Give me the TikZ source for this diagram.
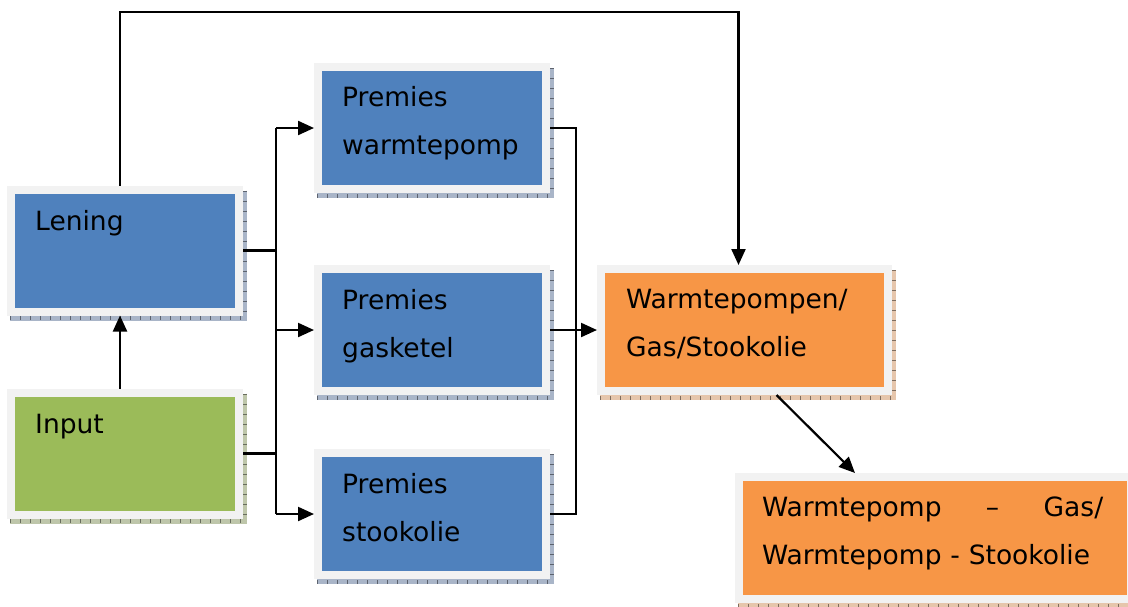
\documentclass[tikz,border=0pt]{standalone}
\usepackage{fontspec}
\setmainfont{DejaVu Sans}
\usepackage{xcolor}
\usetikzlibrary{arrows.meta,positioning,calc}

\definecolor{boxblue}{HTML}{4F81BD}
\definecolor{boxgreen}{HTML}{9BBB59}
\definecolor{boxorange}{HTML}{F79646}
\definecolor{framegray}{HTML}{F2F2F2}
\definecolor{shblue}{HTML}{A9B5C8}
\definecolor{shgreen}{HTML}{BEC6AA}
\definecolor{shorange}{HTML}{E6C6AC}

\tikzset{
  box/.style={draw=framegray, line width=8pt, inner sep=0pt,
    minimum width=228pt, minimum height=122pt},
  lbl/.style={anchor=base west, inner sep=0pt, text width=345pt, align=left,
    font=\fontsize{26.5}{48}\selectfont},
  conn/.style={line width=2.2pt},
  arr/.style={conn, -{Triangle[length=16pt,width=14pt]}}
}

\begin{document}
\begin{tikzpicture}[x=1pt, y=-1pt]
    \useasboundingbox[fill=white] (0,0) rectangle (1128,606);

    % boxes
    \node[box, fill=boxblue] (lening) at (125,250.5) {};
    \node[box, fill=boxgreen] (input) at (125,453.5) {};
    \node[box, fill=boxblue] (pww) at (432,128) {};
    \node[box, fill=boxblue] (pgk) at (432,330) {};
    \node[box, fill=boxblue] (pso) at (432,514) {};
    \node[box, fill=boxorange, minimum width=287pt] (wgs) at (744.5,330) {};
    \node[box, fill=boxorange, minimum width=392pt] (mix) at (935,538) {};

    % shadow strips
    \foreach \n/\c in {lening/shblue, input/shgreen, pww/shblue, pgk/shblue,
                       pso/shblue, wgs/shorange, mix/shorange} {
        \fill[\c] ([xshift=3pt]\n.south west) rectangle ([xshift=4pt,yshift=-5pt]\n.south east);
        \fill[\c] ([yshift=-5pt]\n.north east) rectangle ([xshift=4pt]\n.south east);
        \draw[\c!55!black, line width=4pt, dash pattern=on 1pt off 9pt]
            ([xshift=3pt,yshift=-2.5pt]\n.south west) -- ([xshift=4pt,yshift=-2.5pt]\n.south east);
        \draw[\c!55!black, line width=4pt, dash pattern=on 1pt off 9pt]
            ([xshift=2pt,yshift=-5pt]\n.north east) -- ([xshift=2pt]\n.south east);
    }

    % texts
    \node[lbl] (leningtxt) at (35,230) {Lening};
    \node[lbl] (inputtxt) at (35,433) {Input};
    \node[lbl] (pwwtxt) at (342,106) {Premies\\warmtepomp};
    \node[lbl] (pgktxt) at (342,309) {Premies\\gasketel};
    \node[lbl] (psotxt) at (342,493) {Premies\\stookolie};
    \node[lbl] (wgstxt) at (626,308) {Warmtepompen/\\Gas/Stookolie};
    \node[lbl] (mixtxt) at (762,516) {\makebox[341pt][l]{Warmtepomp\hfill–\hfill Gas/}\\Warmtepomp - Stookolie};

    % connectors
    \coordinate (busL) at (276,0);
    \coordinate (busR) at (576,0);
    \coordinate (topline) at (0,12);

    \draw[arr] ([xshift=-5pt]input.north) -- ([xshift=-5pt]lening.south);
    \draw[arr] ([xshift=-5pt]lening.north) |- ([xshift=-6pt]wgs.north |- topline)
        -- ([xshift=-6pt]wgs.north);

    \draw[conn] (lening.east) -- (lening.east -| busL);
    \draw[conn] (input.east) -- (input.east -| busL);
    \draw[conn] (busL |- pww.west) -- (busL |- pso.west);
    \foreach \t in {pww, pgk, pso}
        \draw[arr] (busL |- \t.west) -- (\t.west);

    \draw[conn] (pww.east) -| (busR |- pso.east) -- (pso.east);
    \draw[conn] (pgk.east) -- (busR |- pgk.east);
    \draw[arr] (busR |- pgk.east) -- (wgs.west);

    \draw[arr] ([xshift=32pt]wgs.south) -- ([xshift=-80pt]mix.north);
\end{tikzpicture}
\end{document}
